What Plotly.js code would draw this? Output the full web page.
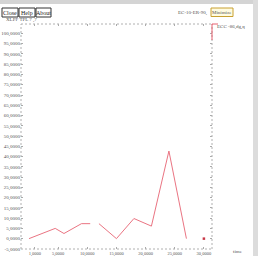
<!DOCTYPE html>
<html>
<head>
<meta charset="utf-8">
<script src="https://cdn.plot.ly/plotly-3.0.1.min.js"></script>
<style>
html,body{margin:0;padding:0;background:#fff;}
#chart{width:258px;height:256px;}
</style>
</head>
<body>
<div id="chart"></div>
<script>
// Data (null = break in the line)
const timeValues   = [0, 4.5, 6, 9, 10.5, null, 12, 15, 18, 21, 24, 27, null, 30];
const seriesValues = [0, 5, 2.5, 7.3, 7.3, null, 7.3, 0, 9.8, 6.1, 42.7, 0, null, 0];

const yTickValues = [];
for (let v = -5; v <= 100; v += 5) yTickValues.push(v);
const yTickLabels = yTickValues.map(v => v + ",0000");
const xTickValues = [1, 5, 10, 15, 20, 25, 30];
const xTickLabels = ["1,0000", "5,0000", "10,0000", "15,0000", "20,0000", "25,0000", "30,0000"];

const buttonLabels = ["Close", "Help", "About"];

const font = {family: "Liberation Serif, serif", size: 5, color: "#555"};

const lineTrace = {
  x: timeValues, y: seriesValues,
  type: "scatter", mode: "lines",
  line: {color: "#ea7482", width: 1},
  connectgaps: false, hoverinfo: "none", showlegend: false
};
// isolated samples (no neighbour on either side) get a dot
const dotX = [], dotY = [];
for (let i = 0; i < timeValues.length; i++) {
  if (timeValues[i] === null) continue;
  const prev = i > 0 ? timeValues[i-1] : null;
  const next = i < timeValues.length - 1 ? timeValues[i+1] : null;
  if (prev === null && next === null) { dotX.push(timeValues[i]); dotY.push(seriesValues[i]); }
}
const dotTrace = {
  x: dotX, y: dotY, type: "scatter", mode: "markers",
  marker: {color: "#c83848", size: 2.5, symbol: "square"},
  hoverinfo: "none", showlegend: false
};

const plotL = 21, plotW = 191, plotT = 24, plotH = 225;
function px2x(p){ return (p - plotL) / plotW; }
function py2y(p){ return 1 - (p - plotT) / plotH; }

const dashed = {color: "#b0b0b0", width: 1, dash: "2px,2px"};
const shapes = [
  {type:"line", xref:"paper", yref:"paper", x0:0, x1:1, y0:1, y1:1, line:dashed},
  {type:"line", xref:"paper", yref:"paper", x0:1, x1:1, y0:0, y1:1, line:dashed},
  {type:"line", xref:"paper", yref:"paper", x0:0, x1:0, y0:0, y1:1, line:dashed},
  {type:"line", xref:"paper", yref:"paper", x0:0, x1:1, y0:0, y1:0, line:dashed},
  // red marker top right
  {type:"line", xref:"paper", yref:"paper", x0:1, x1:1, y0:py2y(40), y1:1, line:{color:"#e8606e", width:1}},
  {type:"line", xref:"paper", yref:"paper", x0:1, x1:px2x(218), y0:1, y1:1, line:{color:"#e8606e", width:1}},
  // top grey bar
  {type:"rect", xref:"paper", yref:"paper", x0:px2x(0), x1:px2x(258), y0:py2y(4), y1:py2y(0), fillcolor:"#d4d4d4", line:{width:0}, layer:"below"},
  // right grey bar
  {type:"rect", xref:"paper", yref:"paper", x0:px2x(253), x1:px2x(258), y0:py2y(256), y1:py2y(0), fillcolor:"#dcdcdc", line:{width:0}, layer:"below"},
  // Minimize box
  {type:"rect", xref:"paper", yref:"paper", x0:px2x(211), x1:px2x(233), y0:py2y(16.5), y1:py2y(8), fillcolor:"#fffbe0", line:{color:"#c8a030", width:1}}
];

const btnX = [[2, 18], [19, 35], [36, 51]];
const annotations = [];
btnX.forEach((b, i) => {
  shapes.push({type:"rect", xref:"paper", yref:"paper", x0:px2x(b[0]), x1:px2x(b[1]), y0:py2y(17), y1:py2y(8),
    fillcolor:"#fff", line:{color:"#333", width:1}});
  annotations.push({xref:"paper", yref:"paper", x:px2x((b[0]+b[1])/2), y:py2y(12.5), text:buttonLabels[i],
    showarrow:false, font:{family:"Liberation Serif, serif", size:6, color:"#222"}, xanchor:"center", yanchor:"middle"});
});
const small = {family:"Liberation Serif, serif", size:5, color:"#555"};
annotations.push({xref:"paper", yref:"paper", x:px2x(4), y:py2y(20), text:"XLPF TPL 7 ,7", showarrow:false, font:small, xanchor:"left", yanchor:"middle"});
annotations.push({xref:"paper", yref:"paper", x:px2x(209), y:py2y(12.5), text:"EC-10-ER-90,", showarrow:false, font:small, xanchor:"right", yanchor:"middle"});
annotations.push({xref:"paper", yref:"paper", x:px2x(222), y:py2y(12.5), text:"Minimize", showarrow:false, font:small, xanchor:"center", yanchor:"middle"});
annotations.push({xref:"paper", yref:"paper", x:px2x(215), y:py2y(27), text:"ECC -86,dg,q", showarrow:false, font:small, xanchor:"left", yanchor:"middle"});
annotations.push({xref:"paper", yref:"paper", x:px2x(238), y:py2y(251), text:"time", showarrow:false, font:small, xanchor:"center", yanchor:"middle"});

const layout = {
  width: 258, height: 256,
  margin: {l: plotL, r: 258 - plotL - plotW, t: plotT, b: 256 - plotT - plotH, pad: 0},
  paper_bgcolor: "#fff", plot_bgcolor: "#fff",
  font: font,
  showlegend: false,
  xaxis: {
    range: [-1.37, 31.39], tickvals: xTickValues, ticktext: xTickLabels,
    showgrid: false, zeroline: false, showline: false,
    ticks: "inside", ticklen: 2, tickwidth: 1, tickcolor: "#aaa",
    tickfont: {family: "Liberation Serif, serif", size: 4.5, color: "#555"},
    mirror: "ticks"
  },
  yaxis: {
    range: [-5.05, 104.6], tickvals: yTickValues, ticktext: yTickLabels,
    showgrid: false, zeroline: false, showline: false,
    ticks: "inside", ticklen: 2, tickwidth: 1, tickcolor: "#aaa", tickfont: font,
    mirror: "ticks"
  },
  shapes: shapes,
  annotations: annotations
};

Plotly.newPlot("chart", [lineTrace, dotTrace], layout, {displayModeBar: false, staticPlot: true});
</script>
</body>
</html>
